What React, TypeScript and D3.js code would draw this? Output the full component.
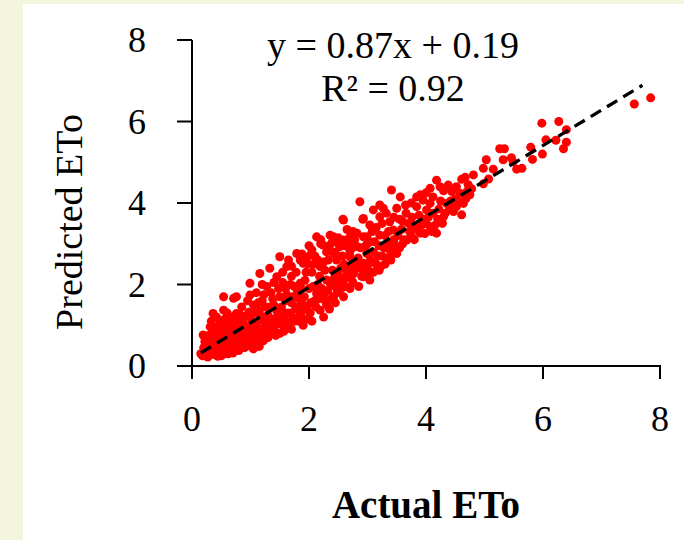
import React from "react";
import * as d3 from "d3";

const etoPairs: [number, number][] = [
  // dense cluster near origin
  [0.18, 0.25], [0.22, 0.32], [0.25, 0.28], [0.28, 0.4], [0.3, 0.3], [0.32, 0.5], [0.35, 0.36], [0.38, 0.28],
  [0.4, 0.45], [0.42, 0.6], [0.45, 0.34], [0.48, 0.5], [0.5, 0.4], [0.52, 0.7], [0.55, 0.3], [0.58, 0.55],
  [0.6, 0.45], [0.62, 0.8], [0.65, 0.38], [0.68, 0.62], [0.7, 0.5], [0.72, 0.9], [0.75, 0.42], [0.78, 0.7],
  [0.8, 0.55], [0.2, 0.45], [0.25, 0.55], [0.3, 0.7], [0.35, 0.85], [0.4, 0.95], [0.45, 0.8], [0.5, 1.05],
  [0.55, 0.95], [0.6, 1.1], [0.65, 1.0], [0.7, 1.2], [0.22, 0.6], [0.28, 0.75], [0.19, 0.76], [0.31, 0.96],
  [0.36, 1.29], [0.48, 1.05], [0.54, 1.37], [0.76, 1.29], [0.33, 1.1], [0.42, 1.2], [0.6, 1.3], [0.38, 0.62],
  [0.5, 0.25], [0.62, 0.3], [0.7, 0.32], [0.8, 0.38], [0.15, 0.3], [0.27, 0.22], [0.44, 0.24], [0.58, 0.78],
  [0.66, 0.6], [0.74, 0.68], [0.56, 1.15], [0.47, 0.66],
  [0.2, 0.35], [0.24, 0.42], [0.26, 0.65], [0.3, 0.52], [0.33, 0.42], [0.34, 0.62], [0.37, 0.75], [0.4, 0.32],
  [0.41, 0.78], [0.43, 0.5], [0.46, 0.62], [0.49, 0.88], [0.51, 0.55], [0.53, 0.36], [0.56, 0.65], [0.57, 0.45],
  [0.59, 0.92], [0.61, 0.62], [0.63, 0.5], [0.64, 1.18], [0.67, 0.72], [0.69, 0.42], [0.71, 0.82], [0.73, 0.58],
  [0.74, 1.05], [0.77, 0.48], [0.79, 0.92],
  // x 0.8 - 1.5
  [0.85, 0.5], [0.9, 0.7], [0.95, 0.95], [1.0, 0.55], [1.0, 1.2], [1.05, 0.8], [1.1, 1.05], [1.1, 0.6],
  [1.15, 1.35], [1.2, 0.75], [1.2, 1.6], [1.25, 1.0], [1.3, 0.7], [1.3, 1.25], [1.35, 1.8], [1.4, 0.9],
  [1.4, 1.5], [1.45, 1.15], [1.5, 0.8], [1.5, 1.7], [0.85, 1.45], [0.9, 1.2], [0.95, 1.6], [0.99, 1.74],
  [0.99, 2.03], [1.05, 1.5], [1.16, 2.27], [1.28, 1.95], [1.33, 2.4], [1.45, 2.19], [1.5, 2.68], [1.62, 2.44],
  [0.85, 0.9], [1.15, 0.48], [1.25, 1.45], [1.35, 0.95], [1.45, 1.35], [1.1, 1.8], [1.2, 2.0], [1.4, 2.05],
  [0.9, 0.45], [1.05, 0.42], [0.76, 1.7], [0.71, 1.66], [0.54, 1.7], [0.82, 1.1], [1.0, 0.95], [1.22, 1.2],
  [0.81, 0.7], [0.83, 1.25], [0.84, 0.62], [0.87, 0.78], [0.88, 1.05], [0.91, 0.58], [0.93, 0.85], [0.96, 0.7],
  [0.97, 1.32], [0.98, 0.5], [1.02, 1.05], [1.03, 0.68], [1.07, 0.95], [1.08, 1.3], [1.12, 0.72], [1.13, 1.55],
  [1.17, 0.9], [1.18, 1.15], [1.22, 0.62], [1.23, 1.75], [1.27, 0.85], [1.28, 1.1], [1.32, 1.45], [1.33, 0.82],
  [1.37, 1.15], [1.38, 1.65], [1.42, 1.0], [1.43, 0.75], [1.47, 1.25], [1.48, 1.9],
  // x 1.5 - 2.5
  [1.55, 1.0], [1.6, 1.3], [1.6, 1.9], [1.65, 0.95], [1.7, 1.55], [1.7, 2.2], [1.75, 1.1], [1.79, 2.76],
  [1.8, 1.8], [1.85, 1.25], [1.85, 2.03], [1.9, 2.52], [1.9, 1.5], [1.95, 1.15], [2.0, 1.9], [2.02, 2.72],
  [2.02, 1.3], [2.05, 2.3], [2.1, 1.6], [2.13, 1.78], [2.13, 3.17], [2.15, 2.0], [2.19, 2.44], [2.19, 1.37],
  [2.24, 2.97], [2.25, 1.75], [2.3, 2.11], [2.3, 1.5], [2.36, 3.21], [2.4, 2.35], [2.42, 1.7], [2.45, 1.95],
  [2.47, 2.6], [2.5, 2.25], [1.55, 2.3], [1.65, 2.6], [1.75, 1.95], [1.85, 2.6], [1.95, 2.3], [2.0, 2.95],
  [2.1, 2.7], [2.2, 3.0], [2.3, 2.8], [2.4, 3.05], [1.6, 1.6], [1.8, 1.45], [2.05, 1.1], [2.25, 1.2],
  [2.35, 1.4], [2.45, 1.55], [1.7, 0.9], [1.9, 1.0],
  [1.52, 1.05], [1.53, 1.45], [1.57, 0.85], [1.58, 1.15], [1.62, 1.75], [1.63, 1.05], [1.67, 1.3], [1.68, 2.0],
  [1.72, 1.2], [1.73, 1.7], [1.77, 1.4], [1.78, 2.3], [1.82, 1.1], [1.83, 1.65], [1.87, 1.9], [1.88, 1.35],
  [1.92, 1.7], [1.93, 2.1], [1.97, 1.4], [1.98, 2.5], [2.03, 1.55], [2.07, 1.95], [2.08, 2.5], [2.12, 1.45],
  [2.17, 1.65], [2.18, 2.2], [2.22, 1.9], [2.27, 2.35], [2.28, 1.6], [2.32, 1.85], [2.33, 2.6], [2.37, 2.0],
  [2.38, 1.65], [2.43, 2.15], [2.48, 1.8],
  [1.55, 2.05], [1.7, 2.45], [1.88, 2.75], [1.95, 2.6], [2.05, 2.85], [2.15, 2.6], [2.25, 2.55], [2.35, 2.95],
  [2.45, 2.8], [2.5, 3.0], [2.2, 3.1],
  // x 2.5 - 3.5
  [2.53, 2.93], [2.55, 1.9], [2.59, 2.11], [2.59, 1.7], [2.59, 3.09], [2.6, 2.5], [2.65, 2.3], [2.7, 2.68],
  [2.7, 1.9], [2.75, 2.05], [2.76, 2.27], [2.8, 2.5], [2.82, 2.93], [2.82, 3.26], [2.85, 1.95], [2.9, 2.2],
  [2.93, 2.52], [2.93, 2.19], [2.93, 3.17], [2.99, 3.17], [3.0, 2.4], [3.04, 2.11], [3.05, 2.6], [3.1, 2.8],
  [3.1, 2.3], [3.15, 2.5], [3.2, 2.95], [3.2, 2.35], [3.25, 2.7], [3.3, 2.5], [3.35, 3.0], [3.38, 2.85],
  [3.4, 2.6], [3.45, 3.1], [3.5, 2.76], [2.42, 3.17], [2.7, 3.17], [3.04, 3.05], [3.21, 3.21], [2.42, 2.76],
  [2.7, 2.81], [2.99, 2.76], [2.58, 3.6], [2.92, 3.6], [2.87, 4.03], [2.59, 3.58], [2.93, 3.62], [3.04, 3.46],
  [3.21, 3.66], [3.38, 3.54], [3.44, 3.34], [3.1, 3.83], [3.21, 3.95], [3.27, 3.87], [3.5, 3.87], [3.41, 4.32],
  [2.65, 3.35], [3.3, 3.2],
  [2.52, 2.05], [2.54, 2.4], [2.57, 2.7], [2.62, 1.95], [2.64, 2.2], [2.68, 2.45], [2.72, 2.15], [2.74, 2.9],
  [2.78, 2.35], [2.84, 2.65], [2.88, 2.4], [2.96, 2.35], [2.97, 2.95], [3.02, 2.25], [3.08, 2.55], [3.12, 3.05],
  [3.18, 2.7], [3.23, 2.45], [3.28, 2.9], [3.32, 2.65], [3.36, 3.3], [3.42, 2.75], [3.47, 2.95],
  [2.62, 2.95], [2.68, 3.05], [2.78, 3.1], [2.88, 2.9], [3.0, 3.0], [3.08, 3.3], [3.15, 3.4], [3.25, 3.5],
  [3.32, 3.75], [3.45, 3.65], [2.5, 3.15], [2.75, 3.3],
  // x 3.5 - 4.8
  [3.56, 4.15], [3.6, 3.0], [3.67, 3.09], [3.7, 3.5], [3.75, 3.2], [3.78, 3.46], [3.84, 4.15], [3.84, 3.91],
  [3.9, 3.26], [3.95, 4.07], [4.0, 3.5], [4.01, 3.83], [4.07, 3.99], [4.07, 3.42], [4.07, 4.36], [4.1, 3.3],
  [4.12, 3.75], [4.18, 3.26], [4.18, 4.56], [4.2, 3.6], [4.24, 4.4], [4.3, 3.66], [4.35, 3.99], [4.38, 4.44],
  [4.4, 3.85], [4.44, 4.28], [4.47, 3.79], [4.52, 3.91], [4.52, 4.4], [4.58, 4.24], [4.61, 3.71], [4.61, 4.58],
  [4.64, 3.99], [4.67, 4.63], [4.7, 4.28], [4.75, 4.2], [4.81, 4.69], [3.6, 3.55], [3.95, 3.6], [4.25, 4.05],
  [4.5, 4.1],
  [3.52, 3.2], [3.55, 2.9], [3.58, 3.35], [3.63, 3.1], [3.66, 3.75], [3.72, 3.3], [3.76, 3.65], [3.8, 3.1],
  [3.86, 3.35], [3.88, 3.7], [3.92, 3.45], [3.98, 3.25], [4.04, 3.65], [4.15, 3.45], [4.22, 3.85], [4.28, 3.5],
  [4.33, 3.75], [4.42, 4.05], [4.46, 3.95], [4.55, 4.05], [4.68, 4.1], [4.72, 4.45], [4.78, 4.35],
  [3.55, 3.6], [3.65, 3.95], [3.75, 4.0], [3.9, 4.2], [4.0, 4.25], [4.12, 4.15], [4.3, 4.3],
  // x > 4.8
  [4.98, 4.85], [5.15, 4.83], [4.98, 4.47], [5.07, 4.59], [5.03, 5.06], [5.32, 5.06], [5.46, 5.11], [5.49, 5.01],
  [5.26, 5.33], [5.34, 5.33], [5.55, 4.83], [5.64, 4.85], [5.79, 5.37], [5.82, 5.07], [5.99, 5.2], [6.05, 5.55],
  [6.22, 5.54], [6.4, 5.49], [6.35, 5.33], [6.4, 5.8], [5.98, 5.96], [6.27, 6.0], [7.56, 6.43], [7.84, 6.58],
];

const xTicks = [0, 2, 4, 6, 8];
const yTicks = [0, 2, 4, 6, 8];
const slope = 0.87;
const intercept = 0.19;
const rSquared = 0.92;
const fitRange = [0.15, 7.7];

const W = 684;
const H = 540;
const font = "'Liberation Serif', 'DejaVu Serif', serif";

export default function App() {
  const x = d3.scaleLinear().domain([0, 8]).range([192, 660]);
  const y = d3.scaleLinear().domain([0, 8]).range([366, 40]);
  const fitLine = d3
    .line<number>()
    .x((d) => x(d))
    .y((d) => y(slope * d + intercept));

  return (
    <svg width={W} height={H} style={{ position: "absolute", left: 0, top: 0 }}>
      <rect x={0} y={0} width={W} height={H} fill="#f3f6dc" />
      <rect x={23} y={4} width={W - 23} height={H - 4} fill="#fff" />

      {etoPairs.map((d, i) => (
        <circle key={i} cx={x(d[0])} cy={y(d[1])} r={4.5} fill="#ff0000" />
      ))}

      <path d={fitLine(fitRange) || ""} stroke="#000" strokeWidth={3.3} strokeDasharray="12,7" fill="none" />

      {/* axes */}
      <line x1={x(0)} x2={x(0)} y1={y(8)} y2={y(0)} stroke="#000" strokeWidth={2} />
      <line x1={x(0)} x2={x(8) + 1} y1={y(0)} y2={y(0)} stroke="#000" strokeWidth={2} />
      {yTicks.map((t) => (
        <g key={"y" + t}>
          <line x1={x(0) - 15} x2={x(0)} y1={y(t)} y2={y(t)} stroke="#000" strokeWidth={2} />
          <text x={146} y={y(t) + 12} textAnchor="end" fontFamily={font} fontSize={36}>
            {t}
          </text>
        </g>
      ))}
      {xTicks.map((t) => (
        <g key={"x" + t}>
          <line x1={x(t)} x2={x(t)} y1={y(0)} y2={y(0) + 13} stroke="#000" strokeWidth={2} />
          <text x={x(t)} y={431} textAnchor="middle" fontFamily={font} fontSize={36}>
            {t}
          </text>
        </g>
      ))}

      <text x={393} y={58} textAnchor="middle" fontFamily={font} fontSize={38}>
        {`y = ${slope}x + ${intercept}`}
      </text>
      <text x={393} y={101} textAnchor="middle" fontFamily={font} fontSize={38}>
        {`R² = ${rSquared}`}
      </text>

      <text x={426} y={518} textAnchor="middle" fontFamily={font} fontSize={39} fontWeight="bold">
        Actual ETo
      </text>
      <text
        transform={`translate(82, 222) rotate(-90)`}
        textAnchor="middle"
        fontFamily={font}
        fontSize={38}
      >
        Predicted ETo
      </text>
    </svg>
  );
}
